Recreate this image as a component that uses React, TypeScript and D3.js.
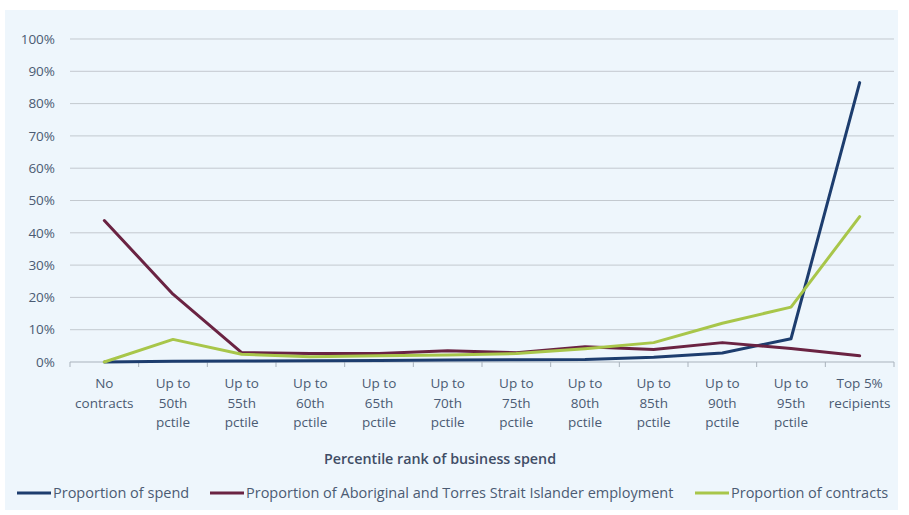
import React from "react";
import * as d3 from "d3";

const categories: string[][] = [
  ["No", "contracts"],
  ["Up to", "50th", "pctile"],
  ["Up to", "55th", "pctile"],
  ["Up to", "60th", "pctile"],
  ["Up to", "65th", "pctile"],
  ["Up to", "70th", "pctile"],
  ["Up to", "75th", "pctile"],
  ["Up to", "80th", "pctile"],
  ["Up to", "85th", "pctile"],
  ["Up to", "90th", "pctile"],
  ["Up to", "95th", "pctile"],
  ["Top 5%", "recipients"],
];

const spend = [0, 0.2, 0.3, 0.4, 0.5, 0.6, 0.7, 0.8, 1.5, 2.8, 7.2, 86.5];
const employment = [43.8, 21, 2.9, 2.6, 2.6, 3.5, 2.9, 4.7, 3.9, 6, 4.2, 1.9];
const contracts = [0, 7, 2.4, 1.6, 1.9, 2.2, 2.6, 4.1, 6, 12, 17, 45];

const yTicks = [0, 10, 20, 30, 40, 50, 60, 70, 80, 90, 100];

const seriesNames = [
  "Proportion of spend",
  "Proportion of Aboriginal and Torres Strait Islander employment",
  "Proportion of contracts",
];
const seriesColors = ["#1d3d6e", "#6a2342", "#a8c64a"];
const seriesData = [spend, employment, contracts];

const FONT = "'Open Sans', 'Noto Sans', sans-serif";
const TEXT = "#4b5b73";

export default function App() {
  const width = 909;
  const height = 515;
  const left = 70;
  const right = 894;
  const top = 39;
  const bottom = 362;

  const x = d3
    .scaleBand<number>()
    .domain(categories.map((_, i) => i))
    .range([left, right]);
  const y = d3.scaleLinear().domain([0, 100]).range([bottom, top]);

  const line = d3
    .line<number>()
    .x((_, i) => (x(i) as number) + x.bandwidth() / 2)
    .y((d) => y(d));

  const legendItems = [
    { lx: 17, tx: 53 },
    { lx: 210, tx: 246 },
    { lx: 695, tx: 731 },
  ];

  return (
    <svg
      width={width}
      height={height}
      style={{ position: "absolute", left: 0, top: 0, display: "block" }}
      fontFamily={FONT}
    >
      <rect x={0} y={0} width={width} height={height} fill="#ffffff" />
      <rect x={5} y={10} width={893} height={500} fill="#eef6fc" />
      {yTicks.map((t) => (
        <g key={t}>
          <line
            x1={left}
            x2={right}
            y1={y(t)}
            y2={y(t)}
            stroke={t === 0 ? "#a9b2bc" : "#c3c9cf"}
            strokeWidth={1}
          />
          <text
            x={55}
            y={y(t)}
            dy="0.35em"
            textAnchor="end"
            fontSize={13.5}
            fill={TEXT}
          >
            {t}%
          </text>
        </g>
      ))}
      {categories.map((_, i) => (
        <line
          key={"tk" + i}
          x1={(x(i) as number) + x.bandwidth()}
          x2={(x(i) as number) + x.bandwidth()}
          y1={bottom}
          y2={bottom + 5}
          stroke="#a9b2bc"
        />
      ))}
      <line x1={left} x2={left} y1={bottom} y2={bottom + 5} stroke="#a9b2bc" />
      {categories.map((c, i) => (
        <text
          key={"cl" + i}
          x={(x(i) as number) + x.bandwidth() / 2}
          y={388}
          textAnchor="middle"
          fontSize={13.5}
          fill={TEXT}
        >
          {c.map((s, j) => (
            <tspan key={j} x={(x(i) as number) + x.bandwidth() / 2} dy={j === 0 ? 0 : 19.5}>
              {s}
            </tspan>
          ))}
        </text>
      ))}
      {seriesData.map((d, k) => (
        <path
          key={"s" + k}
          d={line(d) as string}
          fill="none"
          stroke={seriesColors[k]}
          strokeWidth={3}
          strokeLinejoin="round"
          strokeLinecap="round"
        />
      ))}
      <text
        x={440}
        y={464}
        textAnchor="middle"
        fontSize={14.3}
        fontWeight={600}
        fill="#3f4d66"
      >
        Percentile rank of business spend
      </text>
      {seriesNames.map((n, k) => (
        <g key={"lg" + k}>
          <line
            x1={legendItems[k].lx}
            x2={legendItems[k].lx + 34}
            y1={493}
            y2={493}
            stroke={seriesColors[k]}
            strokeWidth={3}
          />
          <text x={legendItems[k].tx} y={493} dy="0.35em" fontSize={14.5} fill={TEXT}>
            {n}
          </text>
        </g>
      ))}
    </svg>
  );
}
